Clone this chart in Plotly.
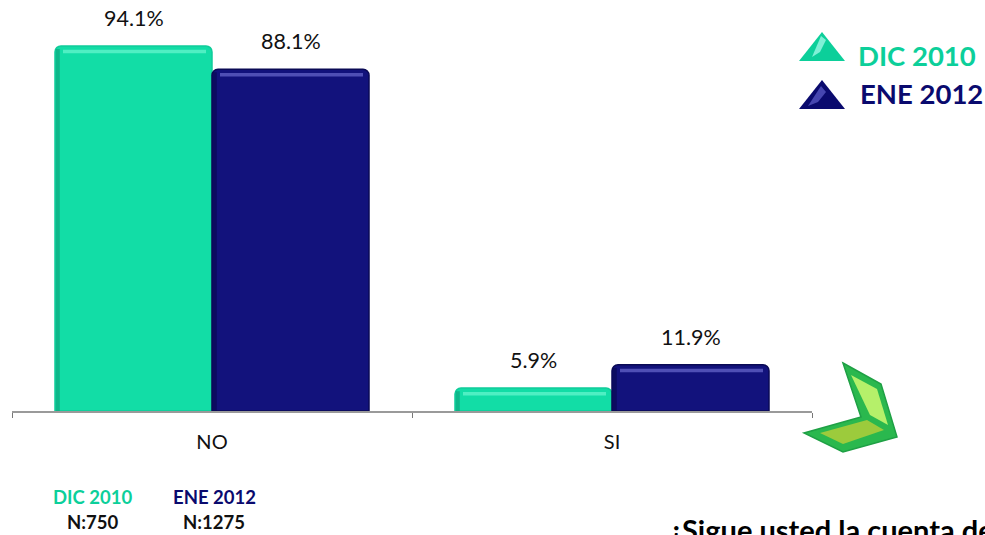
import plotly.graph_objects as go

categories = ["NO", "SI"]
series_names = ["DIC 2010", "ENE 2012"]
dic_2010 = [94.1, 5.9]
ene_2012 = [88.1, 11.9]
sample_labels = ["N:750", "N:1275"]
question = "¿Sigue usted la cuenta de"

W, H = 985, 535
L, R, T, B = 12, 173, 23, 124
TEAL, NAVY = "#12DDA6", "#12127C"
TEAL_TXT, NAVY_TXT = "#0CCF9A", "#0A0A6E"
FONT = "Lato"
BARGAP = 0.215
HALF = (1 - BARGAP) / 2


def px(x):
    return (x - L) / (W - L - R)


def py(y):
    return 1 - (y - T) / (H - T - B)


def poly(points, fill, line=None, width=0):
    path = "M " + " L ".join(f"{px(x):.5f},{py(y):.5f}" for x, y in points) + " Z"
    return dict(type="path", xref="paper", yref="paper", path=path, fillcolor=fill,
                line=dict(color=line or fill, width=width), layer="above")


fig = go.Figure()
for name, vals, col, edge in [(series_names[0], dic_2010, TEAL, "#10CC9A"),
                              (series_names[1], ene_2012, NAVY, "#0A0A55")]:
    fig.add_bar(x=categories, y=vals, name=name, marker=dict(color=col, line=dict(color=edge, width=1.5), cornerradius=6),
                cliponaxis=False)

shapes = []
annotations = []
for i in range(len(categories)):
    for j, (vals, hi, side) in enumerate([(dic_2010, "#4FEFC3", "#0C9E78"), (ene_2012, "#4F4FB5", "#08084F")]):
        v = vals[i]
        x0 = i - HALF + j * HALF
        x1 = x0 + HALF
        # bevel highlight along the bar top and a darker left edge
        shapes.append(dict(type="rect", xref="x", yref="y", x0=x0 + 0.02, x1=x1 - 0.015, y0=v - 1.9, y1=v - 1.0,
                           fillcolor=hi, line=dict(width=0), layer="above"))
        shapes.append(dict(type="rect", xref="x", yref="y", x0=x0 + 0.002, x1=x0 + 0.012, y0=0, y1=v - 0.8,
                           fillcolor=side, line=dict(width=0), layer="above", opacity=0.6))
        annotations.append(dict(x=i, y=v, xref="x", yref="y", text=f"{v:.1f}%", showarrow=False, xshift=(j - 0.5) * 157,
                                yanchor="bottom", yshift=13, font=dict(family=FONT, size=21.5, color="#111111")))

# legend triangles
shapes += [
    poly([(799, 61), (822, 32), (845, 61)], "#0CCF9A"),
    poly([(821, 36), (826, 40), (820, 52), (812, 57)], "#7FF0D6"),
    poly([(799, 109), (822, 80), (845, 109)], "#0A0A6E"),
    poly([(821, 86), (826, 92), (818, 102), (808, 106)], "#4646B0"),
]
# green chevron
shapes += [
    poly([(843, 363), (881, 384), (897, 437), (843, 452), (804, 433), (861, 417)], "#2AB84E", "#1FA045", 1.5),
    poly([(851, 375), (877, 389), (888, 425), (870, 415)], "#B5F06A"),
    poly([(820, 433), (867, 420), (884, 430), (843, 444)], "#9CCB3C"),
]

for text, xp, yp, size, color in [
    (series_names[0], 917, 55, 27.5, TEAL_TXT), (series_names[1], 921, 93, 27.5, NAVY_TXT),
    (series_names[0], 92, 497, 18.5, TEAL_TXT), (series_names[1], 214, 497, 18.5, NAVY_TXT),
    (sample_labels[0], 92, 522, 18.5, "#111111"), (sample_labels[1], 214, 522, 18.5, "#111111"),
]:
    annotations.append(dict(x=px(xp), y=py(yp), xref="paper", yref="paper", text=f"<b>{text}</b>", showarrow=False,
                            xanchor="center", yanchor="middle", font=dict(family=FONT, size=size, color=color)))

annotations.append(dict(x=px(667), y=py(510), xref="paper", yref="paper", text=f"<b>{question}</b>", showarrow=False,
                        xanchor="left", yanchor="top", font=dict(family=FONT, size=29, color="#000000")))

fig.update_layout(
    width=W, height=H, margin=dict(l=L, r=R, t=T, b=B, pad=0, autoexpand=False),
    paper_bgcolor="white", plot_bgcolor="white", barmode="group", bargap=BARGAP, bargroupgap=0,
    showlegend=False, shapes=shapes, annotations=annotations,
    font=dict(family=FONT, size=19, color="#111111"),
)
fig.update_xaxes(type="category", range=[-0.5, 1.5], showline=True, linecolor="#9A9A9A", linewidth=1.5, ticks="outside", tickson="boundaries",
                 ticklen=5, tickcolor="#777777", tickwidth=1, ticklabelstandoff=12, tickfont=dict(family=FONT, size=20, color="#111111"), showgrid=False)
fig.update_yaxes(range=[0, 100], visible=False, showgrid=False, zeroline=False)
fig.write_html("out.html", config=dict(displayModeBar=False),
               post_script="document.body.style.margin='0';document.documentElement.style.overflow='hidden';")
